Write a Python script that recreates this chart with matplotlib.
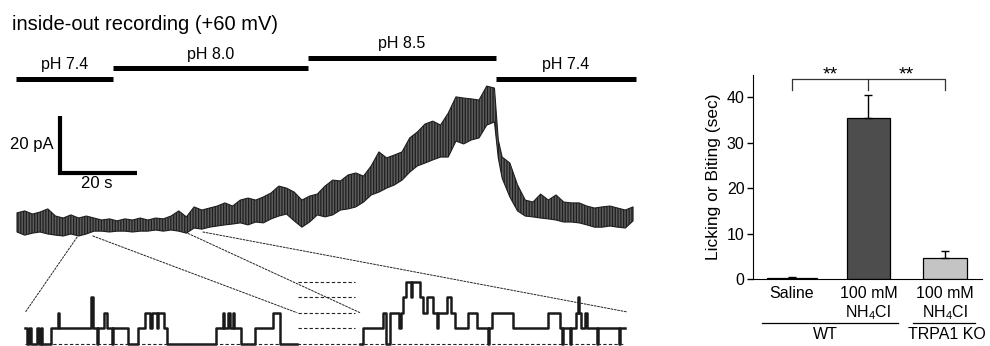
import matplotlib
matplotlib.use("Agg")
import matplotlib.pyplot as plt
from matplotlib.patches import ConnectionPatch

plt.rcParams['font.family'] = ['Liberation Sans', 'DejaVu Sans']
plt.rcParams['hatch.linewidth'] = 0.9

# ---------- whole-patch current trace (time in s, current in pA) ----------
trace_t = [0, 2, 4, 6, 8, 10, 12, 14, 16, 18, 20, 22, 24, 26, 28, 30, 32, 34, 36, 38,
           40, 42, 44, 46, 48, 50, 52, 54, 56, 58, 60, 62, 64, 66, 68, 70, 72, 74, 76, 78,
           80, 82, 84, 86, 88, 90, 92, 94, 96, 98, 100, 102, 104, 106, 108, 110, 112, 114,
           116, 118, 120, 122, 124, 125, 126, 128, 130, 132, 134, 136, 138, 140, 142, 144,
           146, 148, 150, 152, 154, 156, 158, 160]
trace_hi = [4.6, 5.3, 4.2, 4.9, 6.0, 3.5, 2.8, 3.9, 2.8, 3.5, 2.8, 2.1, 2.5, 1.8, 2.5, 2.1,
            2.8, 2.1, 2.8, 2.5, 3.5, 5.3, 3.2, 6.7, 5.6, 6.3, 7.0, 8.1, 7.0, 9.1, 9.8, 9.1,
            10.2, 11.6, 14.0, 13.3, 11.9, 9.1, 10.5, 11.2, 14.0, 16.1, 15.8, 17.9, 18.6, 17.5,
            21.1, 26.0, 23.9, 24.9, 26.0, 30.9, 33.0, 35.8, 36.8, 35.4, 39.6, 45.3, 44.9, 44.6,
            44.2, 49.1, 48.4, 30.2, 24.2, 22.1, 14.4, 9.1, 8.4, 11.2, 9.1, 10.9, 8.4, 8.1,
            8.1, 7.0, 6.3, 6.7, 7.0, 6.3, 5.6, 6.7]
trace_lo = [-2.1, -3.2, -2.5, -2.1, -2.8, -3.2, -3.5, -2.8, -3.5, -2.8, -1.8, -1.8, -2.1,
            -1.8, -1.8, -2.1, -1.8, -1.8, -1.4, -1.8, -1.4, -1.8, -2.5, -0.7, -1.1, -0.4,
            0.0, 0.4, 0.7, 1.1, 0.4, 1.4, 1.1, 2.5, 3.5, 4.2, 1.8, -0.4, 1.4, 3.9, 3.2, 3.9,
            5.6, 6.0, 6.7, 8.4, 10.9, 11.9, 13.3, 14.4, 16.1, 18.9, 21.1, 22.1, 23.2, 24.2,
            24.2, 29.8, 28.8, 30.2, 30.9, 35.4, 36.5, 23.9, 16.8, 10.2, 5.3, 3.5, 3.2, 2.8,
            2.5, 2.1, 1.4, 1.4, 1.1, 0.4, -0.4, -0.4, 0.0, -0.4, -0.7, 1.8]

# solution exchange
ph_labels = ["pH 7.4", "pH 8.0", "pH 8.5", "pH 7.4"]
ph_start = [-0.3, 24.9, 75.6, 124.4]
ph_end = [24.9, 75.6, 124.4, 160.8]
ph_bar_y = [51.7, 55.4, 59.1, 51.7]

# ---------- expanded single-channel records (time in ms, open level) ----------
left_t = [5, 7, 9.3, 10.7, 17.3, 19.3, 21, 22.3, 30.7, 37.7, 39.3, 70.7, 72.7, 77.3, 78.3,
          84, 86.7, 91.7, 92.7, 108.3, 118.3, 125, 130, 131.7, 136.7, 138.3, 144, 146.7,
          196, 202.7, 204.3, 208.3, 210, 212.7, 214, 220.7, 235, 253.3, 260]
left_lvl = [1, 0, 1, 0, 1, 0, 1, 0, 1, 2, 1, 3, 1, 0, 1,
            2, 1, 0, 1, 0, 1, 2, 1, 2, 1, 2, 1, 0,
            1, 2, 1, 2, 1, 2, 1, 0, 1, 2, 0]
left_end = 277
right_t = [340, 343.3, 363.3, 365.7, 370, 379.3, 381.3, 383.3, 386, 390.7, 392, 400, 403.3,
           406.7, 413.3, 417.3, 418.3, 426.7, 431, 435, 448.3, 456.7, 467.7, 468.7, 471.7,
           493.3, 528.3, 540, 541.7, 542.7, 550, 551, 556, 557.7, 559.3, 560.7, 565, 566.7,
           576.7, 577.7, 599.3, 600.3]
right_lvl = [0, 1, 2, 0, 2, 1, 2, 3, 4, 3, 4, 3, 2,
             3, 2, 1, 2, 3, 2, 1, 2, 1, 0, 1, 2,
             1, 2, 1, 0, 1, 0, 1, 2, 3, 2, 1, 2, 1,
             0, 1, 0, 1]
right_end = 605

# zoom guide lines: trace point -> expanded record point
zoom_t = [15.6, 19.7, 43.6, 48.3]
zoom_pa = [-3.9, -3.5, -2.1, -2.1]
zoom_ms = [5, 277, 340, 607]
zoom_lvl = [2.0, 2.0, 2.0, 2.05]

# ---------- behaviour bar chart ----------
groups = ["Saline", "100 mM\nNH$_\\mathregular{4}$Cl", "100 mM\nNH$_\\mathregular{4}$Cl"]
licking = [0.3, 35.5, 4.6]
licking_err = [0.2, 5.1, 1.6]
bar_colors = ["#6e6e6e", "#4d4d4d", "#c4c4c4"]

fig = plt.figure(figsize=(9.9, 3.46), dpi=100)

# left panel
ax = fig.add_axes([0, 0, 660 / 990, 1])
ax.set_xlim(-4.416, 167.0)
ax.set_ylim(-42.1, 79.3)
ax.axis("off")

ax.fill_between(trace_t, trace_lo, trace_hi, facecolor="#5c5c5c", edgecolor="#1f1f1f",
                hatch="||||||", lw=0.8)

for lab, s, e, y in zip(ph_labels, ph_start, ph_end, ph_bar_y):
    ax.plot([s, e], [y, y], color="black", lw=3.6, solid_capstyle="butt")
    ax.text((s + e) / 2, y + 3.3, lab, ha="center", va="baseline", fontsize=11.5)

# scale bar 20 pA / 20 s
ax.plot([11.17, 11.17, 31.17], [38.6, 18.6, 18.6], color="black", lw=3.0,
        solid_joinstyle="miter", solid_capstyle="butt")
ax.text(9.4, 28.6, "20 pA", ha="right", va="center", fontsize=12)
ax.text(20.8, 15.0, "20 s", ha="center", va="center", fontsize=12)

fig.text(12 / 990, 1 - 30 / 346, "inside-out recording (+60 mV)", fontsize=14.5,
         va="baseline")

# expanded records
ins = fig.add_axes([20 / 990, 0, 620 / 990, 80 / 346])
ins.set_xlim(0, 620)
ins.set_ylim(-0.162, 5.03)
ins.axis("off")
ins.step(left_t + [left_end], left_lvl + [left_lvl[-1]], where="post", color="#1a1a1a", lw=1.8)
ins.step(right_t + [right_end], right_lvl + [right_lvl[-1]], where="post", color="#1a1a1a", lw=1.8)
ins.hlines([1, 2, 3, 4], 278, 335, color="#222222", lw=0.8, linestyles=(0, (3, 2)))
ins.hlines(0, 5, 605, color="#222222", lw=0.8, linestyles=(0, (3, 2)))

for t, i, ms, lv in zip(zoom_t, zoom_pa, zoom_ms, zoom_lvl):
    con = ConnectionPatch(xyA=(t, i), coordsA=ax.transData, xyB=(ms, lv), coordsB=ins.transData,
                          color="#222222", lw=0.7, linestyle=(0, (2, 1.5)))
    fig.add_artist(con)

# right panel
bx = fig.add_axes([753 / 990, 1 - 279 / 346, 229 / 990, 204 / 346])
pos = [0, 1, 2]
bx.bar(pos, licking, width=[0.66, 0.57, 0.57], color=bar_colors, edgecolor="black", lw=0.9)
bx.errorbar(pos, licking, yerr=[[0, 0, 0], licking_err], fmt="none", ecolor="black",
            elinewidth=1.0, capsize=2.7, capthick=1.0)
bx.set_xlim(-0.51, 2.484)
bx.set_ylim(0, 44.9)
bx.spines["top"].set_visible(False)
bx.spines["right"].set_visible(False)
bx.set_yticks([0, 10, 20, 30, 40])
bx.tick_params(axis="y", direction="out", length=4.5, width=1, labelsize=11.5, pad=1.5)
bx.set_xticks(pos, groups)
bx.tick_params(axis="x", length=0, pad=5, labelsize=11.5)
bx.set_ylabel("Licking or Biting (sec)", fontsize=12.5)
bx.yaxis.set_label_coords(-0.138, 0.5)

# significance brackets
bk = dict(color="#333333", lw=0.9, clip_on=False)
bx.plot([0, 0, 1, 1], [41.6, 44.0, 44.0, 41.6], **bk)
bx.plot([1, 2, 2], [44.0, 44.0, 41.6], **bk)
bx.text(0.5, 43.9, "**", ha="center", va="baseline", fontsize=14, clip_on=False)
bx.text(1.5, 43.9, "**", ha="center", va="baseline", fontsize=14, clip_on=False)

# genotype groups
xt = bx.get_xaxis_transform()
bx.plot([-0.392, 1.386], [-0.215, -0.215], color="black", lw=0.9, transform=xt, clip_on=False)
bx.plot([1.582, 2.392], [-0.215, -0.215], color="black", lw=0.9, transform=xt, clip_on=False)
bx.text(0.431, -0.236, "WT", transform=xt, ha="center", va="top", fontsize=11.5)
bx.text(2.03, -0.236, "TRPA1 KO", transform=xt, ha="center", va="top", fontsize=11.5)

fig.savefig("out.png", dpi=100)
